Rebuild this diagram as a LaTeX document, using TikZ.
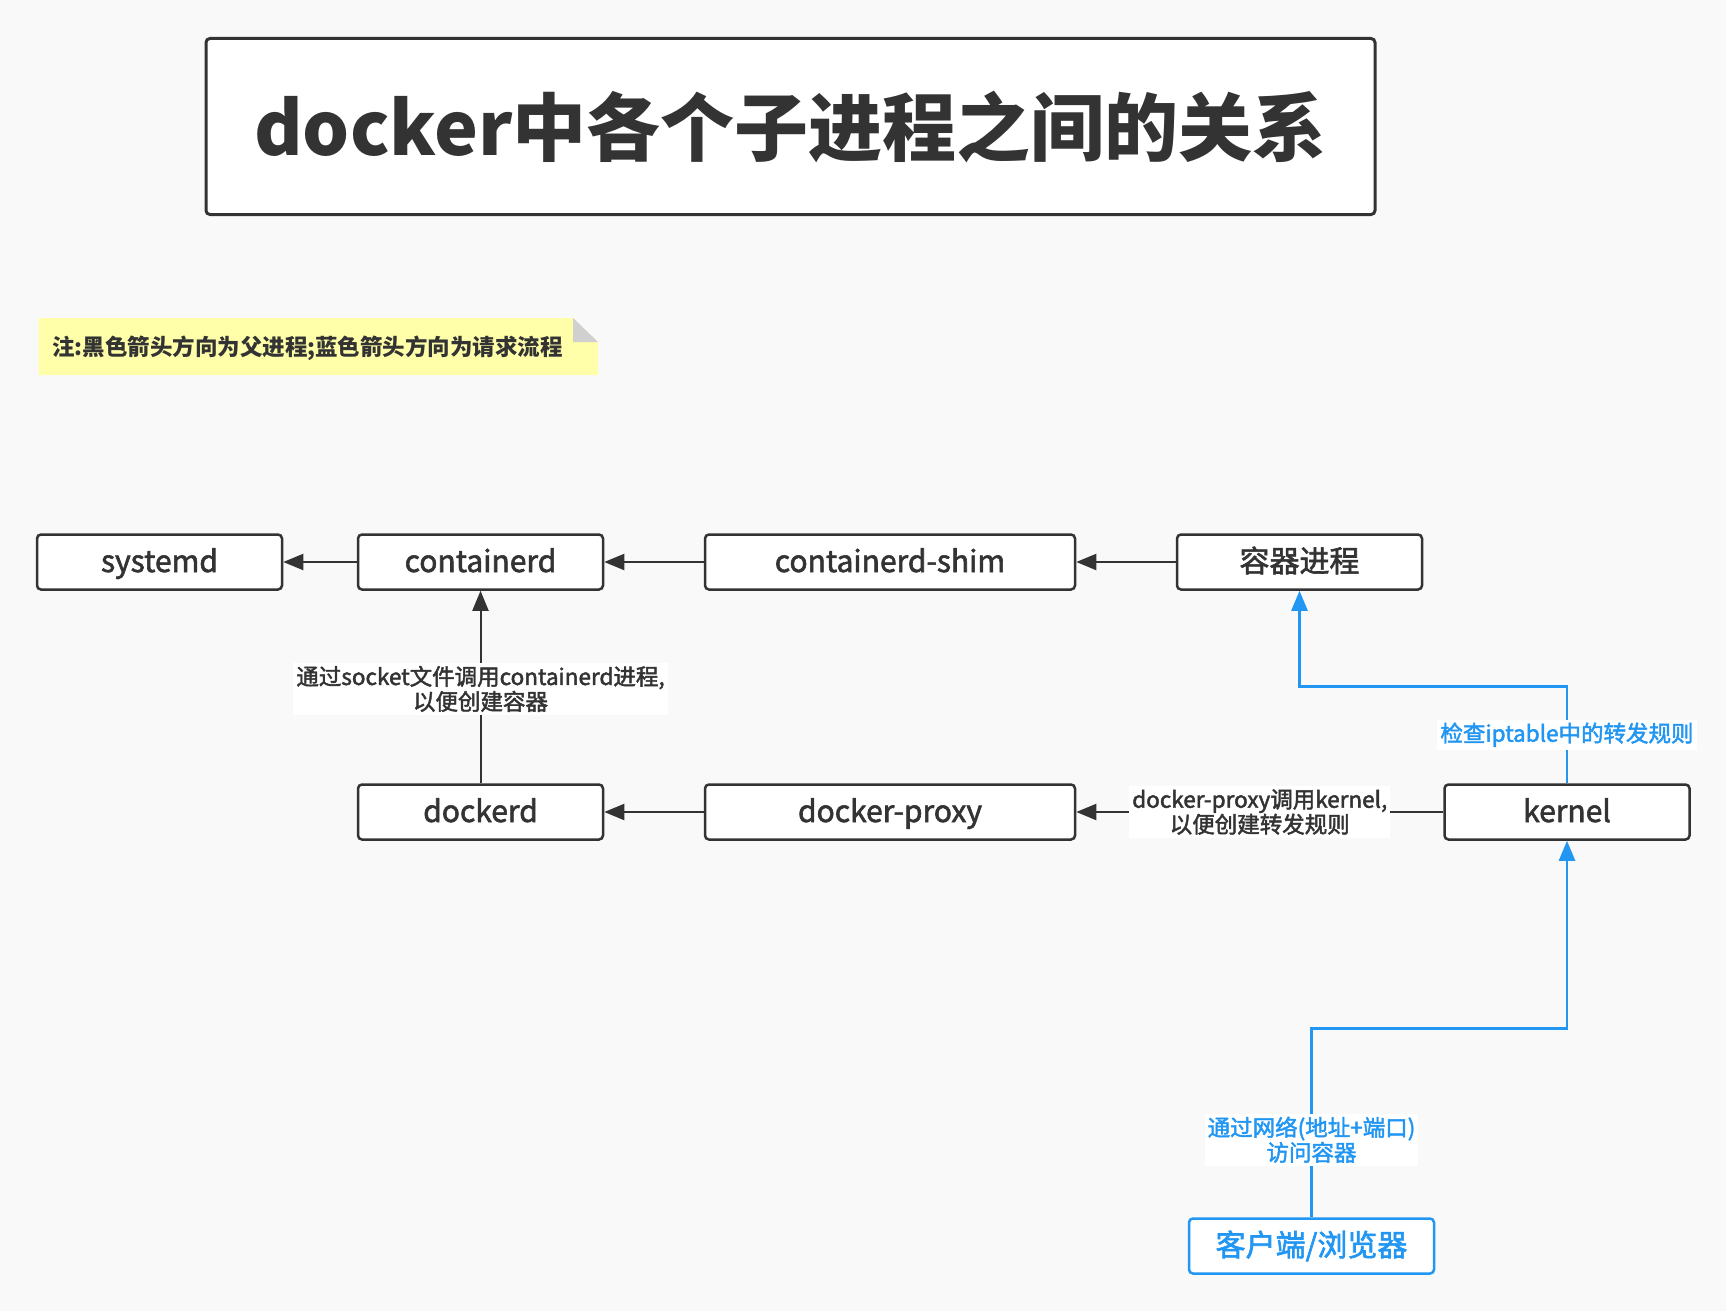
\documentclass[tikz,border=0pt]{standalone}
\usepackage{fontspec}
\setmainfont{Noto Sans CJK SC}
\newfontfamily\medfont[FakeBold=2]{Noto Sans CJK SC}
\usetikzlibrary{arrows.meta}
\definecolor{bg}{RGB}{249,249,249}
\definecolor{ink}{RGB}{51,51,51}
\definecolor{flow}{RGB}{33,150,243}
\definecolor{notey}{RGB}{255,255,170}
\definecolor{fold}{RGB}{208,208,208}
\tikzset{
  x=1pt, y=-1pt,
  proc/.style={draw=ink, line width=2.5pt, fill=white, rounded corners=4pt,
    minimum width=245pt, minimum height=55pt, inner sep=0pt, text=ink,
    text height=26pt, text depth=6pt,
    font=\medfont\fontsize{30}{36}\selectfont},
  blueproc/.style={proc, draw=flow, text=flow},
  parent/.style={draw=ink, line width=2pt, -{Triangle[length=20pt,width=16pt]}},
  request/.style={draw=flow, line width=2.5pt, -{Triangle[length=20pt,width=16pt]}},
  elabel/.style={fill=white, inner sep=3pt, align=center, text=ink,
    font=\medfont\fontsize{22.5}{25}\selectfont},
  blabel/.style={elabel, text=flow},
}
\begin{document}
\begin{tikzpicture}
\fill[bg] (0,0) rectangle (1726,1311);
\useasboundingbox (0,0) rectangle (1726,1311);

% title
\node[draw=ink, line width=3pt, fill=white, rounded corners=4pt,
  minimum width=1169pt, minimum height=176pt, inner sep=0pt, text=ink,
  font=\fontsize{74}{86}\selectfont\bfseries] (title) at (790.5,126.5)
  {docker中各个子进程之间的关系};

% note
\fill[notey] (38.5,318) -- (573,318) -- (598,342) -- (598,375) -- (38.5,375) -- cycle;
\fill[fold] (573,318) -- (573,342) -- (598,342) -- cycle;
\node[anchor=west, inner sep=0pt, text=ink, font=\fontsize{22.5}{26}\selectfont\bfseries]
  (note) at (52,348) {注:黑色箭头方向为父进程;蓝色箭头方向为请求流程};

% nodes
\node[proc] (systemd) at (159.5,562) {systemd};
\node[proc] (containerd) at (480.5,562) {containerd};
\node[proc, minimum width=370pt] (shim) at (890,562) {containerd-shim};
\node[proc] (cproc) at (1299.5,562) {容器进程};
\node[proc] (dockerd) at (480.5,812) {dockerd};
\node[proc, minimum width=370pt] (proxy) at (890,812) {docker-proxy};
\node[proc] (kernel) at (1567,812) {kernel};
\node[blueproc] (client) at (1311.5,1246) {客户端/浏览器};

% parent arrows
\draw[parent] (containerd) -- (systemd);
\draw[parent] (shim) -- (containerd);
\draw[parent] (cproc) -- (shim);
\draw[parent] (proxy) -- (dockerd);
\draw[parent] (dockerd) -- node[elabel, pos=0.49] (lsock)
  {通过socket文件调用containerd进程,\\以便创建容器} (containerd);
\draw[parent] (kernel) -- node[elabel, pos=0.5] (lproxy)
  {docker-proxy调用kernel,\\以便创建转发规则} (proxy);

% request arrows
\draw[request] (kernel.north) -- node[blabel, pos=0.5] (lipt) {检查iptable中的转发规则}
  ++(0,-97) -| (cproc.south);
\draw[request] (client.north) -- node[blabel, pos=0.41] (lnet)
  {通过网络(地址+端口)\\访问容器} ++(0,-189) -| (kernel.south);
\end{tikzpicture}
\end{document}
